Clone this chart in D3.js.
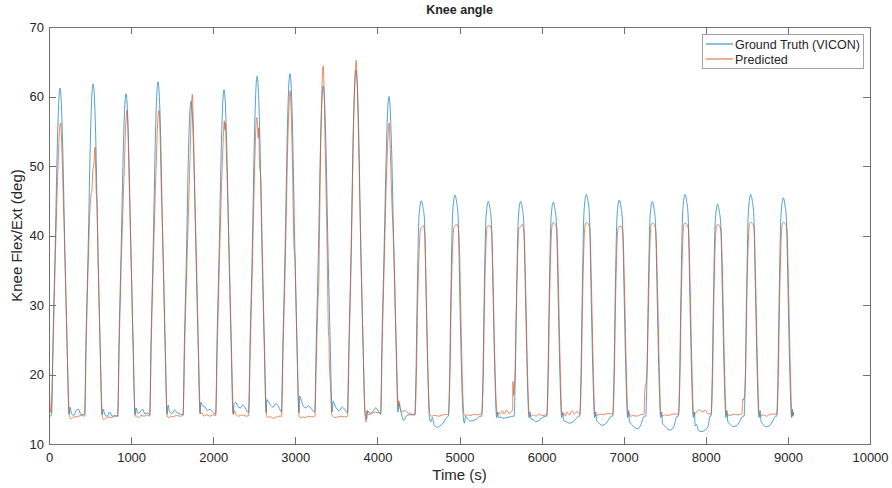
<!DOCTYPE html>
<html>
<head>
<meta charset="utf-8">
<script src="https://cdn.jsdelivr.net/npm/d3@7"></script>
<style>
  body { margin: 0; background: #fff; }
  text { font-family: "Liberation Sans", Arial, sans-serif; fill: #262626; }
</style>
</head>
<body>
<svg id="chart"></svg>
<script>
// Knee angle as [time (s), angle (deg)]
const seriesNames = ["Ground Truth (VICON)", "Predicted"];
const xTicks = [0, 1000, 2000, 3000, 4000, 5000, 6000, 7000, 8000, 9000, 10000];
const yTicks = [10, 20, 30, 40, 50, 60, 70];

const truthPts = [
  [0,14.3],[15,14.0],[32,14.2],
  [49,25],[73,37],[106,55],[122,60],[134,61.2],[146,60],[162,55],[195,37],[219,25],[244,14.3],
  [255,15.3],[275,14.4],[300,14.1],[330,14.8],[360,15.0],[390,14.2],[434,14.3],
  [451,25],[475,37],[508,55.5],[524,60.6],[538,61.8],[550,60.6],[566,55.5],[597,37],[621,25],[646,14.2],
  [660,15.0],[680,14.2],[710,14.0],[740,14.6],[770,14.0],[800,14.1],[836,14.0],
  [853,25],[877,37],[910,54.5],[926,59.2],[938,60.4],[950,59.2],[966,54.5],[999,37],[1023,25],[1048,14.2],
  [1060,15.2],[1080,14.4],[1110,14.6],[1140,15.0],[1170,14.3],[1200,14.5],[1226,14.2],
  [1243,25],[1267,37],[1300,56],[1316,60.9],[1328,62.1],[1340,60.9],[1356,56],[1389,37],[1413,25],[1438,14.3],
  [1450,15.6],[1470,14.6],[1500,14.4],[1530,14.9],[1560,14.5],[1600,14.3],[1633,14.2],
  [1650,25],[1674,37],[1702,53.5],[1718,58.2],[1730,59.3],[1742,58.2],[1758,53.5],[1791,37],[1815,25],[1840,14.4],
  [1850,16.0],[1870,15.5],[1900,15.3],[1930,14.8],[1960,15.0],[2000,14.5],[2030,14.3],
  [2047,25],[2071,37],[2104,55],[2120,59.8],[2132,61],[2144,59.8],[2160,55],[2193,37],[2217,25],[2242,14.4],
  [2255,15.8],[2275,16.0],[2300,15.4],[2330,15.2],[2360,15.6],[2400,15.0],[2430,14.5],
  [2450,25],[2474,37],[2507,56.5],[2523,61.7],[2535,62.9],[2547,61.7],[2563,56.5],[2596,37],[2620,25],[2645,14.5],
  [2655,16.4],[2675,16.0],[2700,15.6],[2730,15.3],[2760,15.8],[2800,15.3],[2830,14.6],
  [2850,25],[2874,37],[2907,57],[2923,62.1],[2935,63.3],[2947,62.1],[2963,57],[2996,37],[3020,25],[3045,14.5],
  [3055,16.9],[3075,16.2],[3100,15.4],[3130,15.2],[3160,15.5],[3200,15.0],[3236,14.6],
  [3256,25],[3280,37],[3312,55.3],[3328,60.3],[3340,61.5],[3352,60.3],[3368,55.3],[3400,37],[3424,25],[3449,14.6],
  [3460,16.2],[3480,15.6],[3510,15.0],[3540,14.8],[3570,15.3],[3600,15.0],[3634,14.5],
  [3654,25],[3678,37],[3711,57.5],[3727,62.6],[3739,63.8],[3751,62.6],[3767,57.5],[3800,37],[3824,25],[3849,14.5],
  [3860,14.0],[3870,13.6],[3880,14.8],[3910,14.4],[3940,14.6],[3980,15.2],[4040,14.3],
  [4056,25],[4080,37],[4113,54],[4129,58.8],[4141,60],[4153,58.8],[4169,54],[4202,37],[4226,25],[4251,14.6],
  [4262,15.8],[4280,15.0],[4300,14.0],[4320,13.4],[4350,14.0],[4390,14.2],[4454,14.2],
  [4470,20],[4483,30],[4508,43],[4535,45],[4555,44],[4572,42.5],[4596,30],[4615,20],[4635,13.6],
  [4650,13.2],[4670,13.8],[4690,12.8],[4720,12.4],[4760,12.6],[4800,13.0],[4840,13.8],[4864,14],
  [4880,20],[4893,30],[4918,43.5],[4945,45.8],[4965,44.8],[4982,43],[5006,30],[5025,20],[5047,13.8],
  [5060,13.0],[5075,14.0],[5100,13.6],[5130,13.3],[5170,13.4],[5210,13.6],[5250,14.0],[5270,14],
  [5286,20],[5299,30],[5324,42.8],[5351,44.9],[5371,43.9],[5388,42],[5412,30],[5431,20],[5453,13.8],
  [5465,14.6],[5475,13.8],[5500,13.9],[5530,13.7],[5570,13.8],[5610,13.9],[5650,14.0],[5664,14],
  [5680,20],[5693,30],[5718,42.8],[5745,44.9],[5765,43.9],[5782,42],[5806,30],[5825,20],[5847,13.8],
  [5860,14.6],[5870,13.6],[5900,13.5],[5930,13.2],[5970,13.4],[6010,13.8],[6050,14.0],[6062,14],
  [6078,20],[6091,30],[6116,42.7],[6143,44.8],[6163,43.8],[6180,42],[6204,30],[6223,20],[6245,13.8],
  [6258,14.5],[6270,13.4],[6300,13.2],[6330,13.0],[6370,13.1],[6410,13.5],[6450,14.0],[6464,14],
  [6480,20],[6493,30],[6518,43.7],[6545,45.9],[6565,44.9],[6582,43],[6606,30],[6625,20],[6647,13.8],
  [6660,14.6],[6670,13.4],[6700,13.0],[6730,12.7],[6770,12.8],[6810,13.4],[6850,14.0],[6866,14],
  [6882,20],[6895,30],[6920,43],[6947,45.1],[6967,44.1],[6984,42.2],[7008,30],[7027,20],[7049,13.8],
  [7062,14.8],[7070,13.2],[7100,12.8],[7130,12.4],[7170,12.2],[7210,12.8],[7250,14.0],[7268,14],
  [7284,20],[7297,30],[7322,42.8],[7349,44.9],[7369,43.9],[7386,42],[7410,30],[7429,20],[7451,13.8],
  [7464,14.6],[7472,13.0],[7500,12.6],[7530,12.2],[7570,12.0],[7610,12.5],[7650,14.0],[7666,14],
  [7682,20],[7695,30],[7720,43.7],[7747,45.9],[7767,44.9],[7784,43],[7808,30],[7827,20],[7849,13.8],
  [7862,14.6],[7870,12.6],[7890,12.8],[7910,11.9],[7950,11.8],[7990,12.0],[8030,12.6],[8050,14.0],[8063,14],
  [8079,20],[8092,30],[8117,42.4],[8144,44.5],[8164,43.5],[8181,41.8],[8205,30],[8224,20],[8246,13.8],
  [8258,14.8],[8268,13.2],[8300,12.8],[8330,12.5],[8370,12.6],[8410,13.2],[8450,14.0],[8466,14],
  [8482,20],[8495,30],[8520,43.7],[8547,45.9],[8567,44.9],[8584,43],[8608,30],[8627,20],[8649,13.8],
  [8662,14.8],[8670,13.4],[8700,12.8],[8730,12.5],[8770,12.6],[8810,13.2],[8850,14.0],[8863,14],
  [8879,20],[8892,30],[8917,43.2],[8944,45.4],[8964,44.4],[8981,42.5],[9005,30],[9024,20],[9046,13.8],
  [9055,15.0],[9062,14.0],[9068,14.6]
];

const predPts = [
  [0,19.5],[15,15.2],[25,14.5],[35,17.5],
  [50,24],[75,36],[110,50],[130,55.5],[142,56.2],[155,53],[175,45],[200,34],[225,22],[250,14.0],
  [270,13.6],[290,13.8],[320,13.9],[360,14.0],[400,14.1],[436,14.0],
  [452,24],[478,36],[500,44],[510,45.6],[525,47],[535,49.5],[545,50],[560,52.7],[568,50],[576,46],[582,45.5],[600,36],[625,23],[650,14.0],
  [665,13.5],[690,13.7],[720,13.9],[760,13.8],[800,14.0],[838,14.0],
  [855,24],[880,36],[915,49],[935,56],[950,58],[962,55],[975,48.5],[1000,37],[1025,24],[1050,14.0],
  [1065,14.0],[1090,13.8],[1120,14.1],[1160,14.0],[1200,14.2],[1228,14.0],
  [1245,24],[1270,36],[1305,50],[1325,56.5],[1340,58],[1352,55],[1365,48],[1392,37],[1416,24],[1440,14.0],
  [1455,13.8],[1480,14.0],[1510,13.9],[1550,14.1],[1600,14.0],[1633,14.1],
  [1652,24],[1680,36],[1715,50],[1735,58.5],[1746,60.3],[1756,57],[1770,49],[1795,37],[1820,24],[1845,14.3],
  [1860,14.5],[1890,14.0],[1920,14.2],[1960,14.0],[2000,14.2],[2030,14.1],
  [2050,24],[2075,36],[2110,50],[2128,55.3],[2135,56.5],[2142,55.2],[2148,56.2],[2160,52],[2175,46],[2198,36],[2222,24],[2247,14.2],
  [2260,14.8],[2280,14.2],[2310,14.0],[2350,14.2],[2400,14.0],[2432,14.1],
  [2452,24],[2478,36],[2510,52],[2522,56],[2530,57],[2540,56],[2548,54],[2555,55.5],[2565,50],[2578,48.5],[2600,37],[2625,24],[2650,14.0],
  [2665,13.8],[2690,14.0],[2720,13.7],[2760,13.8],[2800,14.0],[2832,14.0],
  [2852,24],[2878,36],[2910,54],[2927,59.5],[2937,60.8],[2948,58.5],[2962,52],[2986,38],[2994,37.2],[3020,24],[3047,14.0],
  [3060,13.8],[3090,13.9],[3120,13.8],[3160,14.0],[3200,13.9],[3238,14.0],
  [3256,22],[3278,31],[3286,33],[3294,40],[3314,56],[3330,63],[3340,64.4],[3349,62],[3362,54],[3388,38],[3404,26],[3410,25],[3414,22],[3426,19],[3445,14.2],
  [3455,14.0],[3480,13.8],[3520,13.9],[3560,14.0],[3600,13.9],[3636,14.0],
  [3656,24],[3680,36],[3714,58],[3730,63.5],[3742,65.2],[3752,62.5],[3768,55],[3800,37],[3826,24],[3850,14.2],
  [3862,13.2],[3872,14.8],[3890,14.2],[3930,14.4],[3980,14.6],[4040,14.4],
  [4058,24],[4083,36],[4115,50],[4133,55],[4143,56.2],[4155,53],[4170,47],[4205,36],[4230,24],[4255,15.5],
  [4262,16.2],[4280,15.0],[4300,14.6],[4330,14.8],[4370,14.5],[4410,14.3],[4458,14.2],
  [4475,20],[4490,30],[4510,38],[4525,41],[4540,41.2],[4560,41.4],[4575,40.5],[4598,30],[4617,20],[4640,14.2],
  [4660,14.0],[4700,14.1],[4750,14.0],[4800,14.2],[4866,14.3],
  [4884,20],[4898,30],[4915,38],[4930,41],[4945,41.4],[4965,41.6],[4985,41.2],[5000,38],[5018,28],[5035,19],[5055,14.3],
  [5070,14.1],[5100,14.2],[5140,14.1],[5180,14.3],[5220,14.2],[5272,14.4],
  [5290,20],[5304,30],[5320,38],[5335,41.2],[5350,41.4],[5370,41.4],[5390,40.8],[5405,36],[5422,26],[5440,18],[5460,14.2],
  [5480,14.5],[5500,14.3],[5520,14.8],[5545,14.3],[5570,14.9],[5600,14.4],[5630,14.6],
  [5646,15],[5652,19],[5658,17],[5675,20],[5690,28],[5708,37],[5722,41],[5745,41.2],[5765,41.6],[5785,40.5],[5805,33],[5825,22],[5850,14.2],
  [5870,14.0],[5900,14.2],[5930,14.0],[5970,14.3],[6010,14.1],[6064,14.2],
  [6082,20],[6096,30],[6112,38],[6128,41.5],[6145,41.9],[6165,41.6],[6185,41],[6205,33],[6225,22],[6248,14.2],
  [6270,14.5],[6290,14.0],[6310,14.6],[6340,14.2],[6370,14.8],[6400,14.3],[6430,14.7],[6466,14.3],
  [6484,20],[6498,30],[6514,38],[6530,41.5],[6547,41.9],[6567,41.7],[6587,41],[6607,33],[6627,22],[6650,14.2],
  [6670,14.1],[6710,14.3],[6750,14.2],[6800,14.4],[6868,14.3],
  [6886,20],[6900,30],[6916,38],[6932,41],[6949,41.3],[6969,41.3],[6989,40.6],[7009,33],[7029,22],[7052,14.2],
  [7065,14.4],[7080,14.0],[7120,14.1],[7160,14.0],[7200,14.2],[7248,14.3],[7256,17.5],[7261,18.2],
  [7275,19],[7290,23],[7302,30],[7318,38],[7334,41.5],[7351,41.8],[7371,41.6],[7391,40.6],[7411,33],[7431,22],[7454,14.2],
  [7470,14.0],[7500,14.2],[7540,14.1],[7590,14.3],[7668,14.3],
  [7686,20],[7700,30],[7716,38],[7732,41.5],[7749,41.8],[7769,41.6],[7789,40.8],[7809,33],[7829,22],[7852,14.2],
  [7870,14.3],[7900,14.8],[7930,14.9],[7960,14.6],[7990,14.9],[8020,14.4],[8065,14.3],
  [8083,20],[8097,30],[8113,38],[8129,41.3],[8146,41.6],[8166,41.4],[8186,40.6],[8206,33],[8226,22],[8249,14.2],
  [8265,14.2],[8300,14.1],[8340,14.3],[8380,14.2],[8440,14.3],[8452,16.5],[8458,16.3],
  [8472,17],[8486,21],[8498,30],[8515,38],[8531,41.6],[8548,41.9],[8568,41.7],[8588,41],[8608,33],[8628,22],[8651,14.2],
  [8670,14.1],[8700,14.2],[8740,14.0],[8790,14.3],[8866,14.3],
  [8884,20],[8898,30],[8914,38],[8930,41.5],[8947,41.9],[8967,41.7],[8987,41],[9007,33],[9027,22],[9050,14.2],
  [9060,14.5],[9068,14.2]
];

const W = 892, H = 488;
const margin = { top: 27, right: 22, bottom: 44, left: 49 };
const width = W - margin.left - margin.right;
const height = H - margin.top - margin.bottom;
const colors = ["#0072BD", "#D95319"];
const axisColor = "#707070";

const svg = d3.select("#chart")
  .attr("width", W)
  .attr("height", H);

const g = svg.append("g")
  .attr("transform", `translate(${margin.left},${margin.top})`);

const x = d3.scaleLinear().domain([0, 10000]).range([0, width]);
const y = d3.scaleLinear().domain([10, 70]).range([height, 0]);

// data lines, clipped to the axes box
svg.append("defs").append("clipPath").attr("id", "clip")
  .append("rect").attr("width", width).attr("height", height);

const line = d3.line()
  .x(d => x(d[0]))
  .y(d => y(d[1]))
  .curve(d3.curveMonotoneX);

const plot = g.append("g").attr("clip-path", "url(#clip)");
[truthPts, predPts].forEach((pts, i) => {
  plot.append("path")
    .datum(pts)
    .attr("fill", "none")
    .attr("stroke", colors[i])
    .attr("stroke-width", 0.75)
    .attr("stroke-opacity", 0.9)
    .attr("stroke-linejoin", "round")
    .attr("d", line);
});

// axes (MATLAB style: ticks inside, box on)
function styleAxis(sel, showText) {
  sel.select(".domain").attr("stroke", axisColor).attr("shape-rendering", "crispEdges");
  sel.selectAll(".tick line").attr("stroke", axisColor).attr("shape-rendering", "crispEdges");
  sel.selectAll(".tick text")
    .attr("font-size", "13px")
    .attr("fill", "#262626")
    .style("display", showText ? null : "none");
}

const fmt = d3.format("d");

g.append("g")
  .attr("transform", `translate(0,${height})`)
  .call(d3.axisBottom(x).tickValues(xTicks).tickFormat(fmt).tickSize(-7).tickSizeOuter(0).tickPadding(9))
  .call(s => styleAxis(s, true));

g.append("g")
  .call(d3.axisTop(x).tickValues(xTicks).tickSize(-7).tickSizeOuter(0))
  .call(s => styleAxis(s, false));

g.append("g")
  .call(d3.axisLeft(y).tickValues(yTicks).tickFormat(fmt).tickSize(-7).tickSizeOuter(0).tickPadding(5))
  .call(s => styleAxis(s, true));

g.append("g")
  .attr("transform", `translate(${width},0)`)
  .call(d3.axisRight(y).tickValues(yTicks).tickSize(-7).tickSizeOuter(0))
  .call(s => styleAxis(s, false));

// labels
svg.append("text")
  .attr("x", margin.left + width / 2)
  .attr("y", 14)
  .attr("text-anchor", "middle")
  .attr("font-size", "12.5px")
  .attr("font-weight", "bold")
  .text("Knee angle");

svg.append("text")
  .attr("x", margin.left + width / 2)
  .attr("y", 480)
  .attr("text-anchor", "middle")
  .attr("font-size", "15px")
  .text("Time (s)");

svg.append("text")
  .attr("transform", `translate(22,${margin.top + height / 2}) rotate(-90)`)
  .attr("text-anchor", "middle")
  .attr("font-size", "15px")
  .text("Knee Flex/Ext (deg)");

// legend
const lg = svg.append("g").attr("transform", "translate(702,34)");
lg.append("rect")
  .attr("width", 161).attr("height", 34)
  .attr("fill", "#fff")
  .attr("stroke", "#a0a0a0")
  .attr("stroke-width", 1)
  .attr("shape-rendering", "crispEdges");
seriesNames.forEach((name, i) => {
  const ly = 10 + i * 15;
  lg.append("line")
    .attr("x1", 4).attr("x2", 31)
    .attr("y1", ly).attr("y2", ly)
    .attr("stroke", colors[i]).attr("stroke-width", 0.9);
  lg.append("text")
    .attr("x", 33).attr("y", ly + 4.5)
    .attr("font-size", "12.5px")
    .text(name);
});
</script>
</body>
</html>
